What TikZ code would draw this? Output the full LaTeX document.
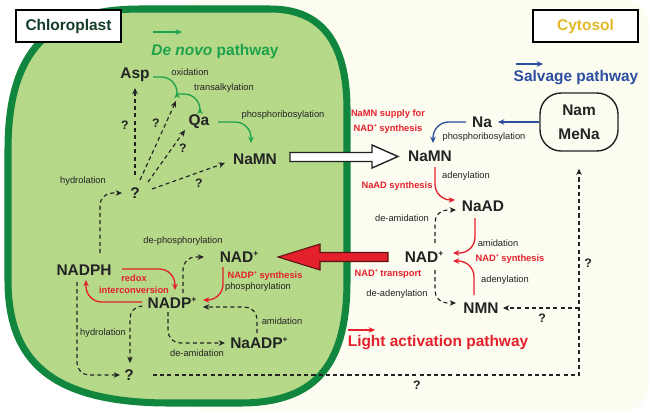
\documentclass[tikz,border=0pt]{standalone}
\usepackage{fontspec}
\setmainfont{Liberation Sans}
\usetikzlibrary{arrows.meta,calc,positioning}

\definecolor{cream}{RGB}{253,252,240}
\definecolor{leaf}{RGB}{182,216,137}
\definecolor{leafedge}{RGB}{17,134,62}
\definecolor{grn}{RGB}{30,163,76}
\definecolor{redc}{RGB}{228,32,44}
\definecolor{redline}{RGB}{90,20,20}
\definecolor{bluec}{RGB}{44,78,160}
\definecolor{gold}{RGB}{226,186,40}
\definecolor{ink}{RGB}{35,35,35}
\definecolor{chltext}{RGB}{20,60,40}

\newcommand{\ionplus}{\raisebox{0.42em}{\scalebox{0.55}{+}}}

\tikzset{
  cmp/.style={font=\fontsize{8.8}{10}\selectfont\bfseries, text=ink, inner sep=0pt},
  qm/.style={font=\fontsize{7}{8}\selectfont\bfseries, text=ink, inner sep=0pt},
  lbl/.style={font=\fontsize{5.3}{6}\selectfont, text=ink, inner sep=0pt},
  rlbl/.style={font=\fontsize{5.3}{6.5}\selectfont\bfseries, text=redc, inner sep=0pt, align=center},
  ttl/.style={font=\fontsize{8.8}{10}\selectfont\bfseries, inner sep=0pt},
  tip/.style={-{Stealth[length=3.6pt,width=3.2pt]}},
  dsh/.style={tip, draw=ink, line width=0.65pt, dash pattern=on 2.3pt off 1.8pt, rounded corners=7pt},
  gar/.style={tip, draw=grn, line width=0.75pt, rounded corners=9pt},
  rar/.style={tip, draw=redc, line width=0.75pt, rounded corners=9pt},
  bar/.style={tip, draw=bluec, line width=0.75pt, rounded corners=9pt},
  place/.style={draw=black, line width=0.9pt, fill=white, minimum width=2.1cm, minimum height=0.64cm, inner sep=0pt}
}

\begin{document}
\begin{tikzpicture}[x=0.02cm, y=-0.02cm]
  \useasboundingbox (0,0) rectangle (649,410);
  % background and chloroplast
  \fill[cream, rounded corners=14pt] (180,0) rectangle (649,410);
  \filldraw[fill=leaf, draw=leafedge, line width=4pt]
    (8,220) -- (8,150) .. controls (8,55) and (45,9) .. (140,9) -- (270,9)
    .. controls (320,9) and (347,40) .. (347,110) -- (347,280)
    .. controls (347,360) and (320,403) .. (240,403) -- (170,403)
    .. controls (50,403) and (8,360) .. (8,280) -- cycle;

  % titles
  \node[place, ttl, text=chltext] (chl) at (68.5,26) {Chloroplast};
  \node[place, ttl, text=gold] (cyt) at (585.5,26) {Cytosol};
  \node[ttl, text=grn] (denovo) at (215,51) {\textit{De novo} pathway};
  \node[ttl, text=bluec] (salv) at (576,78) {Salvage pathway};
  \node[ttl, text=redc] (light) at (438,343) {Light activation pathway};
  \coordinate (dnA) at (153,32);  \coordinate (dnB) at (182,32);
  \coordinate (svA) at (516,64);  \coordinate (svB) at (543,64);
  \coordinate (laA) at (348,330); \coordinate (laB) at (375,330);
  \draw[gar] (dnA) -- (dnB);
  \draw[bar] (svA) -- (svB);
  \draw[rar] (laA) -- (laB);

  % chloroplast compounds
  \node[cmp] (asp) at (135,75) {Asp};
  \node[cmp] (qa) at (199,122) {Qa};
  \node[cmp] (namnL) at (255,159) {NaMN};
  \node[cmp] (qc) at (135,193) {?};
  \node[cmp] (nadph) at (84,270) {NADPH};
  \node[cmp] (nadL) at (239,257) {NAD\ionplus};
  \node[cmp] (nadpp) at (172,303) {NADP\ionplus};
  \node[cmp] (naadp) at (259,343) {NaADP\ionplus};
  \node[cmp] (qb) at (129,375) {?};
  \coordinate (jn) at (177,92);

  % cytosol compounds
  \node[cmp] (namnR) at (430,156) {NaMN};
  \node[cmp] (na) at (482,122) {Na};
  \node[cmp, draw=ink, line width=0.8pt, rounded corners=12pt, minimum width=1.56cm,
    minimum height=1.16cm, align=center, font=\fontsize{8.8}{13.6}\selectfont\bfseries] (nam) at (579,122) {Nam\\MeNa};
  \node[cmp] (naad) at (483,206) {NaAD};
  \node[cmp] (nadR) at (424,257) {NAD\ionplus};
  \node[cmp] (nmn) at (481,308) {NMN};

  % transport arrows
  \filldraw[fill=white, draw=ink, line width=0.8pt]
    ($(namnL)+(35,-6.5)$) -- ($(namnR)+(-58,-3.5)$) -- ($(namnR)+(-58,-11)$)
    -- ($(namnR)+(-32,0.5)$) -- ($(namnR)+(-58,12)$) -- ($(namnR)+(-58,5.5)$)
    -- ($(namnL)+(35,2.5)$) -- cycle;
  \filldraw[fill=redc, draw=redline, line width=0.6pt]
    ($(nadR)+(-36,-4.5)$) -- ($(nadL)+(81,-4.5)$) -- ($(nadL)+(81,-13)$)
    -- ($(nadL)+(39,0)$) -- ($(nadL)+(81,13)$) -- ($(nadL)+(81,4.5)$)
    -- ($(nadR)+(-36,4.5)$) -- cycle;

  % de novo pathway
  \draw[gar] ($(asp)+(18,2)$) -| (jn);
  \draw[gar] ($(jn)+(0,2)$) -| ($(qa)+(1,-14)$);
  \draw[gar] ($(qa)+(19,0)$) -| ($(namnL)+(-4,-16)$);
  \node[lbl] (lox) at (190,72) {oxidation};
  \node[lbl] (ltr) at (224,88) {transalkylation};
  \node[lbl] (lph) at (283,115) {phosphoribosylation};

  % unknown routes
  \draw[dsh] ($(qc)+(0,-18)$) -- ($(asp)+(0,13)$);
  \draw[dsh] ($(qc)+(5,-13)$) -- ($(jn)+(-1,9)$);
  \draw[dsh] ($(qc)+(13,-11)$) -- ($(qa)+(-14,8)$);
  \draw[dsh] ($(qc)+(17,-4)$) -- ($(namnL)+(-30,4)$);
  \draw[dsh] ($(nadph)+(16,-17)$) |- ($(qc)+(-13,0)$);
  \node[qm] (q1) at (125,125) {?};
  \node[qm] (q2) at (156,123) {?};
  \node[qm] (q3) at (183,148) {?};
  \node[qm] (q4) at (199,183) {?};
  \node[lbl] (lhy1) at (83,181) {hydrolation};

  % NADP cycle
  \draw[rar] ($(nadph)+(38,-1)$) -| ($(nadpp)+(3,-13)$);
  \draw[rar] ($(nadpp)+(-30,-1)$) -| ($(nadph)+(2,10)$);
  \draw[rar] ($(nadL)+(-16,10)$) |- ($(nadpp)+(31,-3)$);
  \draw[dsh] ($(nadpp)+(11,-10)$) |- ($(nadL)+(-35,0)$);
  \draw[dsh] ($(naadp)+(-2,-10)$) |- ($(nadpp)+(31,4)$);
  \draw[dsh] ($(nadpp)+(-4,9)$) |- ($(naadp)+(-34,0)$);
  \draw[dsh] ($(nadpp)+(-30,3)$) -| ($(qb)+(1,-12)$);
  \draw[dsh] ($(nadph)+(-7,12)$) |- ($(qb)+(-9,0)$);
  \node[rlbl] (lredox) at (134,284) {redox\\interconversion};
  \node[rlbl] (lnadps) at (265,276) {NADP\ionplus\ synthesis};
  \node[lbl] (ldeph) at (183,241) {de-phosphorylation};
  \node[lbl] (lphos) at (258,287) {phosphorylation};
  \node[lbl] (lami1) at (282,321) {amidation};
  \node[lbl] (ldea1) at (197,353) {de-amidation};
  \node[lbl] (lhy2) at (103,333) {hydrolation};

  % long route to the cytosol
  \coordinate (br) at (579,308);
  \draw[dsh, sharp corners] ($(qb)+(24,0)$) -| ($(nam.south)+(0,17)$);
  \draw[dsh] (br) -- ($(nmn)+(22,0)$);
  \node[qm] (q5) at (417,385) {?};
  \node[qm] (q6) at (588,263) {?};
  \node[qm] (q7) at (542,318) {?};

  % salvage pathway
  \draw[bar] (nam.west) -- ($(na)+(16,0)$);
  \draw[bar] ($(na)+(-16,0)$) -| ($(namnR)+(3,-13)$);
  \node[lbl] (lph2) at (484,137) {phosphoribosylation};
  \node[rlbl, font=\fontsize{5.3}{8.5}\selectfont\bfseries] (lsup) at (388,122) {NaMN supply for\\NAD\ionplus\ synthesis};

  % light activation pathway
  \draw[rar] ($(namnR)+(5,11)$) |- ($(naad)+(-28,-6)$);
  \draw[rar] ($(naad)+(-8,12)$) |- ($(nadR)+(29,-4)$);
  \draw[rar] ($(nmn)+(-7,-13)$) |- ($(nadR)+(29,4)$);
  \draw[dsh] ($(nadR)+(11,-14)$) |- ($(naad)+(-27,4)$);
  \draw[dsh] ($(nadR)+(11,13)$) |- ($(nmn)+(-25,-5)$);
  \node[lbl] (lade1) at (466,176) {adenylation};
  \node[rlbl] (lnaads) at (397,186) {NaAD synthesis};
  \node[lbl] (ldea2) at (402,218) {de-amidation};
  \node[lbl] (lami2) at (498,243) {amidation};
  \node[rlbl] (lnads) at (510,259) {NAD\ionplus\ synthesis};
  \node[rlbl] (ltrans) at (388,274) {NAD\ionplus\ transport};
  \node[lbl] (lade2) at (505,280) {adenylation};
  \node[lbl] (ldead) at (397,294) {de-adenylation};
\end{tikzpicture}
\end{document}
